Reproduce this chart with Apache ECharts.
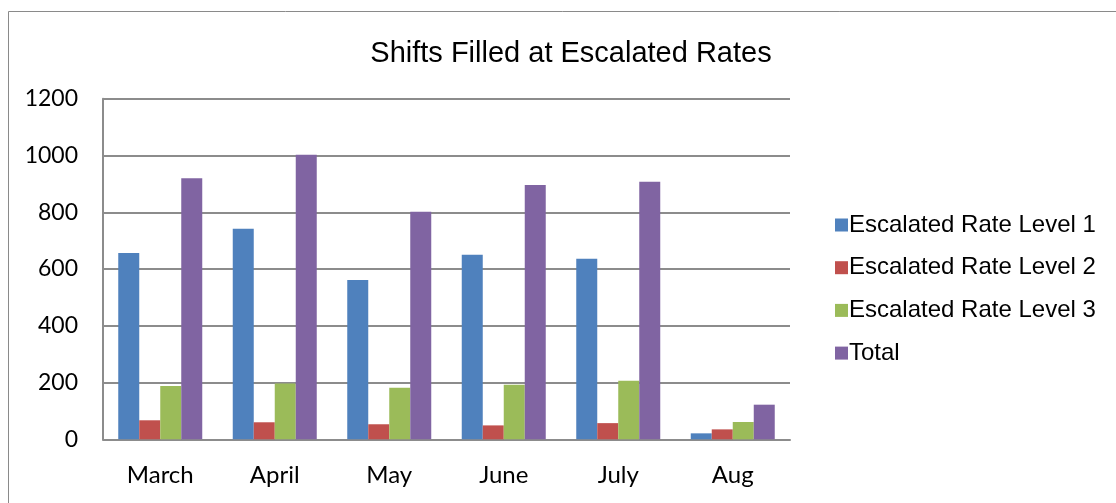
<!DOCTYPE html>
<html>
<head>
<meta charset="utf-8">
<script src="https://cdn.jsdelivr.net/npm/echarts@6/dist/echarts.min.js"></script>
<style>
  html, body { margin: 0; padding: 0; background: #fff; }
  #chart { width: 1116px; height: 503px; }
</style>
</head>
<body>
<div id="chart"></div>
<script>
var months = ['March', 'April', 'May', 'June', 'July', 'Aug'];
var level1 = [657, 742, 561, 650, 636, 21];
var level2 = [67, 60, 53, 49, 57, 35];
var level3 = [188, 197, 182, 192, 206, 61];
var total = [920, 1003, 802, 896, 908, 122];
var seriesNames = ['Escalated Rate Level 1', 'Escalated Rate Level 2', 'Escalated Rate Level 3', 'Total'];
var colors = ['#4F81BD', '#C0504D', '#9BBB59', '#8064A2'];

(function () {
    var values = [level1, level2, level3, total];
    var series = values.map(function (vals, i) {
        return {
            name: seriesNames[i],
            type: 'bar',
            data: vals,
            barWidth: 21,
            barGap: '0%',
            itemStyle: { color: colors[i] }
        };
    });

    var option = {
        animation: false,
        color: colors,
        graphic: [{
            type: 'rect',
            shape: { x: 8.5, y: 11.5, width: 1120, height: 520 },
            style: { fill: 'none', stroke: '#8a8a8a', lineWidth: 1 },
            silent: true
        }],
        title: {
            text: 'Shifts Filled at Escalated Rates',
            left: 566,
            textAlign: 'center',
            top: 34,
            textStyle: {
                fontFamily: 'Liberation Sans',
                fontSize: 29,
                fontWeight: 'normal',
                color: '#000'
            }
        },
        legend: {
            orient: 'vertical',
            left: 830,
            top: 208,
            itemWidth: 13,
            itemHeight: 13,
            itemGap: 18.7,
            icon: 'rect',
            textStyle: {
                fontFamily: 'Liberation Sans',
                fontSize: 24,
                lineHeight: 24,
                color: '#000',
                padding: [0, 0, 0, -4]
            },
            data: seriesNames
        },
        grid: {
            left: 103,
            right: 326,
            top: 98.8,
            bottom: 63.7,
            containLabel: false
        },
        xAxis: {
            type: 'category',
            data: months,
            axisLine: { lineStyle: { color: '#8c8c8c', width: 2 } },
            axisTick: { show: false },
            axisLabel: {
                fontFamily: 'Lato',
                fontSize: 24,
                color: '#000',
                margin: 24
            }
        },
        yAxis: {
            type: 'value',
            min: 0,
            max: 1200,
            interval: 200,
            axisLine: { show: true, lineStyle: { color: '#8c8c8c', width: 2 } },
            axisTick: { show: false },
            splitLine: { lineStyle: { color: '#8c8c8c', width: 2 } },
            axisLabel: {
                fontFamily: 'Lato',
                fontSize: 23,
                color: '#000',
                margin: 25,
                formatter: function (v) { return String(v); }
            }
        },
        series: series
    };

    var chart = echarts.init(document.getElementById('chart'));
    chart.setOption(option);
})();
</script>
</body>
</html>
